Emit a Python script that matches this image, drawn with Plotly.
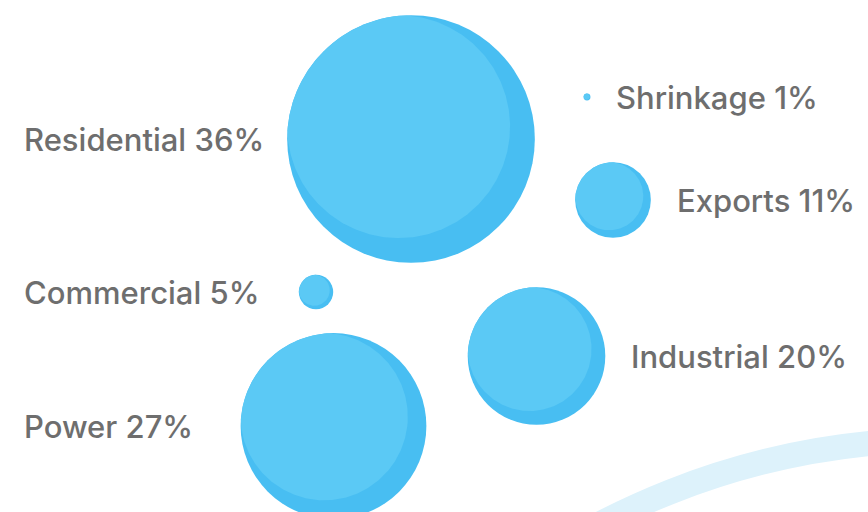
import numpy as np
import plotly.graph_objects as go

# ---- data ----
categories = ["Residential", "Shrinkage", "Exports", "Commercial", "Industrial", "Power"]
values = [36, 1, 11, 5, 20, 27]
# bubble layout positions (packed-bubble layout, pixel-like units)
pos_x = [411, 587, 613, 316, 536.5, 333.5]
pos_y = [139, 97, 200, 292, 356, 426]
label_side = ["left", "right", "right", "left", "right", "left"]

# ---- styles ----
W, H = 868, 512
K = 3.44                      # radius per percent
LIGHT = "#5BC9F5"
DARK = "#48BEF2"
TEXT = "#6E6E6E"
FONT = "Inter, Liberation Sans, Arial, sans-serif"

fig = go.Figure()

# decorative arc bottom-right
arc_cx, arc_cy, arc_r = 942, 1178, 738
fig.add_shape(type="circle", xref="x", yref="y",
              x0=arc_cx - arc_r, x1=arc_cx + arc_r, y0=arc_cy - arc_r, y1=arc_cy + arc_r,
              line=dict(color="#DDF2FB", width=25), fillcolor="rgba(0,0,0,0)", layer="below")

radii = [v * K for v in values]

# base (darker) bubbles
fig.add_trace(go.Scatter(
    x=pos_x, y=pos_y, mode="markers",
    marker=dict(size=[2 * r for r in radii], sizemode="diameter", color=DARK, line=dict(width=0),
                opacity=1),
    hoverinfo="text", text=[f"{c} {v}%" for c, v in zip(categories, values)],
    showlegend=False, cliponaxis=True))

# lighter highlight: intersection of outer circle with an inner circle (0.9r) shifted up-left
theta = np.linspace(0, 2 * np.pi, 361)
for cx, cy, R in zip(pos_x, pos_y, radii):
    a = 0.9 * R
    off = np.array([-(R - a), -(R - a)])
    ux, uy = np.cos(theta), np.sin(theta)
    uc = ux * off[0] + uy * off[1]
    t_in = uc + np.sqrt(uc ** 2 - (off @ off) + a ** 2)
    rho = np.minimum(R, t_in)
    fig.add_trace(go.Scatter(
        x=cx + rho * ux, y=cy + rho * uy, mode="lines", fill="toself",
        fillcolor=LIGHT, line=dict(width=0, color=LIGHT),
        hoverinfo="skip", showlegend=False))

# labels
for c, v, cx, cy, r, side in zip(categories, values, pos_x, pos_y, radii, label_side):
    lx = 22 if side == "left" else cx + r + 24
    fig.add_annotation(x=lx, y=cy, xref="x", yref="y", text=f"{c} {v}%",
                       showarrow=False, xanchor="left", yanchor="middle",
                       font=dict(family=FONT, size=31, color=TEXT, weight=500))

fig.update_xaxes(range=[0, W], visible=False, fixedrange=True)
fig.update_yaxes(range=[H, 0], visible=False, fixedrange=True)
fig.update_layout(width=W, height=H, margin=dict(l=0, r=0, t=0, b=0),
                  paper_bgcolor="white", plot_bgcolor="white", showlegend=False)

fig.write_html("out.html", config={"displayModeBar": False},
               post_script="document.body.style.margin='0';")
